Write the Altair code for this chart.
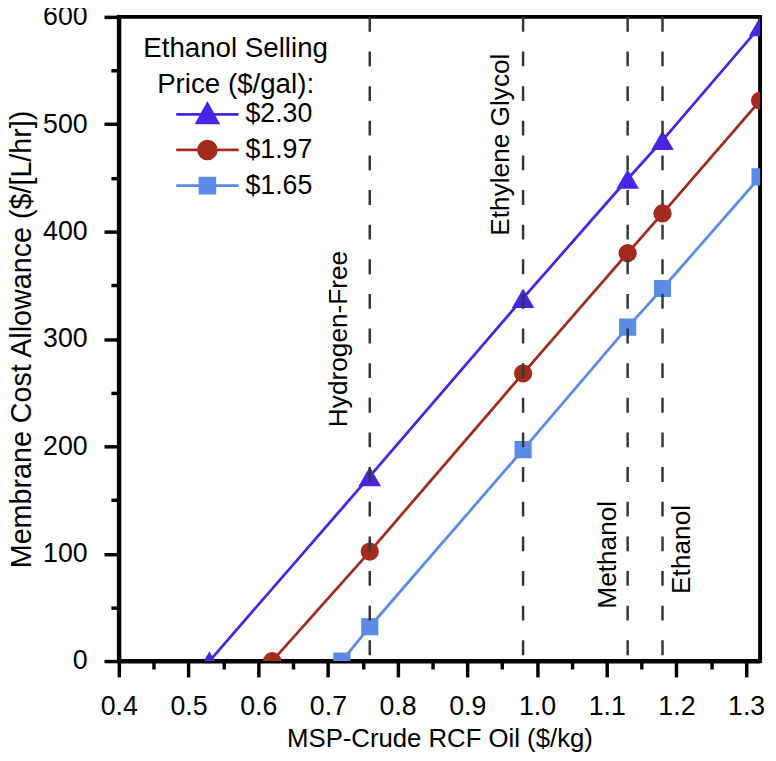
import altair as alt
import pandas as pd

# ---------------- data ----------------
prices = ["$2.30", "$1.97", "$1.65"]

msp_230 = [0.53, 0.76, 0.98, 1.13, 1.18, 1.32]
mca_230 = [0, 172, 338, 449, 485, 591]
msp_197 = [0.62, 0.76, 0.98, 1.13, 1.18, 1.32]
mca_197 = [0, 102, 268, 380, 417, 522]
msp_165 = [0.72, 0.76, 0.98, 1.13, 1.18, 1.32]
mca_165 = [0, 32, 197, 311, 347, 451]

process_names = ["Hydrogen-Free", "Ethylene Glycol", "Methanol", "Ethanol"]
process_msp = [0.76, 0.98, 1.13, 1.18]
label_mca = [300, 481, 99, 104]

x_major = [0.4, 0.5, 0.6, 0.7, 0.8, 0.9, 1.0, 1.1, 1.2, 1.3]
x_minor = [0.45, 0.55, 0.65, 0.75, 0.85, 0.95, 1.05, 1.15, 1.25]
y_major = [0, 100, 200, 300, 400, 500, 600]
y_minor = [50, 150, 250, 350, 450, 550]

# ---------------- styles ----------------
colors = ["#4A22E8", "#A52A1E", "#5B8BE6"]
shapes = ["triangle-up", "circle", "square"]
marker_sizes = [520, 340, 300]
label_dy = [-31, -22, -20, 20]
FONT = "Liberation Sans, Arial, sans-serif"

# legend glyphs: a short line with the marker in its middle
# (unit = 10 px, since the legend symbol size is 400)
legend_line = "M-3.15,0L3.15,0"
legend_marks = [
    "M0,-1.05L1.05,0.85L-1.05,0.85Z",
    "M-0.9,0A0.9,0.9 0 1,0 0.9,0A0.9,0.9 0 1,0 -0.9,0Z",
    "M-0.75,-0.75H0.75V0.75H-0.75Z",
]
legend_paths = [legend_line + m for m in legend_marks]
shape_expr = (
    f"datum.value === '{prices[0]}' ? '{legend_paths[0]}' : "
    f"datum.value === '{prices[1]}' ? '{legend_paths[1]}' : '{legend_paths[2]}'"
)

rows = []
for p, xs, ys in zip(prices, [msp_230, msp_197, msp_165], [mca_230, mca_197, mca_165]):
    for xv, yv in zip(xs, ys):
        rows.append({"msp": xv, "mca": yv, "price": p})
df = pd.DataFrame(rows)

df_proc = pd.DataFrame({"name": process_names, "msp": process_msp, "ly": label_mca})

xscale = alt.Scale(domain=[0.4, 1.32], nice=False, zero=False)
yscale = alt.Scale(domain=[0, 600], nice=False)

common_axis = dict(
    tickColor="black", tickWidth=3.5, domainColor="black", domainWidth=4,
    grid=False, labelFont=FONT, labelColor="black", titleFont=FONT,
    titleColor="black", titleFontWeight="normal", labelFlush=False,
    labelOverlap=False,
)

x_major_axis = alt.Axis(values=x_major, format=".1f", orient="bottom",
                        title="MSP-Crude RCF Oil ($/kg)", tickSize=16,
                        labelFontSize=27, labelPadding=17, titleFontSize=26,
                        titlePadding=6, **common_axis)
y_major_axis = alt.Axis(values=y_major, format="d", orient="left",
                        title="Membrane Cost Allowance ($/[L/hr])", tickSize=15,
                        labelFontSize=27, labelPadding=17, titleFontSize=29,
                        titlePadding=6, **common_axis)
x_minor_axis = alt.Axis(values=x_minor, orient="bottom", labels=False, title=None,
                        tickSize=8, domain=False, ticks=True, tickColor="black",
                        tickWidth=3.5, grid=False)
y_minor_axis = alt.Axis(values=y_minor, orient="left", labels=False, title=None,
                        tickSize=8, domain=False, ticks=True, tickColor="black",
                        tickWidth=3.5, grid=False)

legend = alt.Legend(
    title=["Ethanol Selling", "Price ($/gal):"],
    orient="none", legendX=25, legendY=19, padding=0,
    titleFont=FONT, titleFontSize=28, titleFontWeight="normal",
    titleColor="black", titleAnchor="middle", titleAlign="center",
    titleLineHeight=36, titlePadding=2, titleLimit=400,
    labelFont=FONT, labelFontSize=27, labelColor="black", labelLimit=300,
    rowPadding=6, symbolSize=400, symbolOffset=35, labelOffset=25,
    symbolType=alt.ExprRef(expr=shape_expr),
    symbolFillColor=alt.ExprRef(expr="scale('color', datum.value)"),
    symbolStrokeWidth=2.8, symbolOpacity=1,
)

lines = alt.Chart(df).mark_line(strokeWidth=2.8, clip=True).encode(
    x=alt.X("msp:Q", scale=xscale, axis=x_major_axis),
    y=alt.Y("mca:Q", scale=yscale, axis=y_major_axis),
    color=alt.Color("price:N", scale=alt.Scale(domain=prices, range=colors),
                    legend=legend),
)

# one marker layer per series (fixed shape / size / colour)
point_layers = []
for i, (p, c, s, sz) in enumerate(zip(prices, colors, shapes, marker_sizes)):
    ax_x = x_minor_axis if i == 0 else None
    ax_y = y_minor_axis if i == 0 else None
    pl = alt.Chart(df).transform_filter(alt.datum.price == p).mark_point(
        filled=True, opacity=1, clip=True, shape=s, size=sz, color=c,
    ).encode(
        x=alt.X("msp:Q", scale=xscale, axis=ax_x),
        y=alt.Y("mca:Q", scale=yscale, axis=ax_y),
    )
    point_layers.append(pl)

rules = alt.Chart(df_proc).mark_rule(strokeDash=[15, 20], color="#2E3A3A",
                                     strokeWidth=2.5).encode(
    x=alt.X("msp:Q", scale=xscale, axis=None),
)

texts = []
for name, dy in zip(process_names, label_dy):
    t = alt.Chart(df_proc).transform_filter(
        alt.datum.name == name
    ).mark_text(angle=270, font=FONT, fontSize=26.5, color="black",
                align="center", baseline="middle", dy=dy).encode(
        x=alt.X("msp:Q", scale=xscale, axis=None),
        y=alt.Y("ly:Q", scale=yscale, axis=None),
        text="name:N",
    )
    texts.append(t)

chart = alt.layer(lines, *point_layers, rules, *texts).resolve_axis(
    x="independent", y="independent"
).properties(
    width=648, height=651,
    autosize=alt.AutoSizeParams(type="none"),
    padding={"left": 112, "top": 5, "right": 8, "bottom": 96},
).configure_view(
    stroke="black", strokeWidth=4
)

chart.save("out.html", embed_options={"renderer": "svg", "actions": False})
